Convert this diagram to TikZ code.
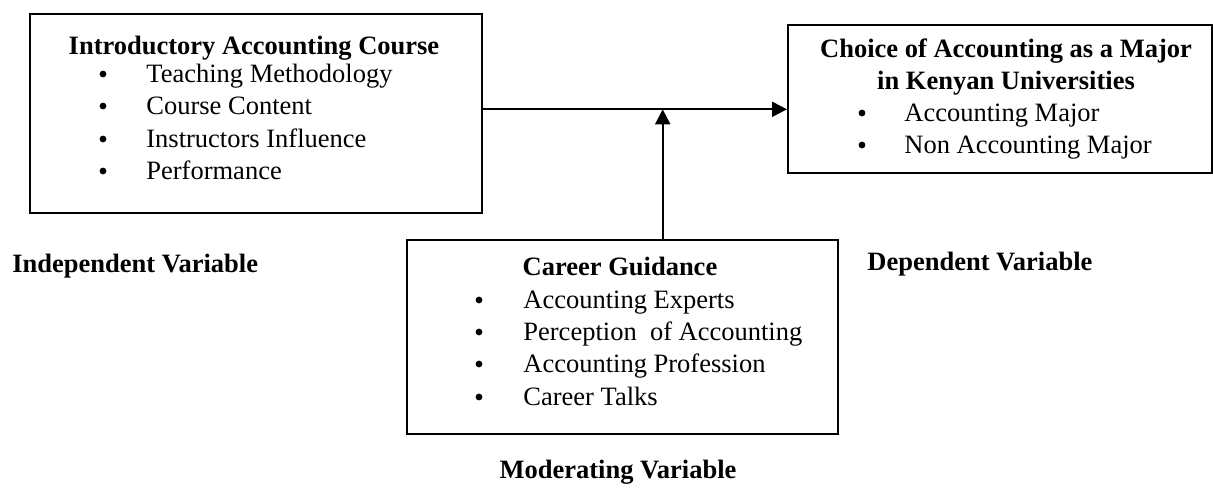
\documentclass[tikz,border=0pt]{standalone}
\usepackage{fontspec}
\setmainfont{Liberation Serif}
\usetikzlibrary{arrows.meta}
\tikzset{
  boxn/.style={draw, line width=1pt, rectangle, anchor=north west, inner sep=0pt},
  ttl/.style={font=\fontsize{13.25}{16}\selectfont\bfseries, anchor=base, inner sep=0pt},
  itm/.style={font=\fontsize{13.25}{16}\selectfont, anchor=base west, inner sep=0pt},
  bul/.style={circle, fill, inner sep=0pt, minimum size=3.4pt},
  lbl/.style={font=\fontsize{13.25}{16}\selectfont\bfseries, anchor=base west, inner sep=0pt},
  conn/.style={line width=1pt, -{Triangle[length=7.5pt,width=7.5pt]}}
}
\begin{document}
\begin{tikzpicture}[x=0.5pt,y=0.5pt]
\useasboundingbox (0,0) rectangle (1213,-489);
% boxes
\node[boxn, minimum width=226pt, minimum height=99.5pt] (b1) at (29,-13) {};
\node[boxn, minimum width=212pt, minimum height=74pt] (b2) at (787,-24) {};
\node[boxn, minimum width=215.5pt, minimum height=97pt] (b3) at (406,-239) {};
% box 1 text
\node[ttl] (t1) at (254,-54) {Introductory Accounting Course};
\node[bul] (p11) at (103,-74) {};
\node[itm] (i11) at (146,-82) {Teaching Methodology};
\node[bul] (p12) at (103,-106) {};
\node[itm] (i12) at (146,-114) {Course Content};
\node[bul] (p13) at (103,-139) {};
\node[itm] (i13) at (146,-147) {Instructors Influence};
\node[bul] (p14) at (103,-171) {};
\node[itm] (i14) at (146,-179) {Performance};
% box 2 text
\node[ttl] (t2a) at (1006,-57) {Choice of Accounting as a Major};
\node[ttl] (t2b) at (1006,-89) {in Kenyan Universities};
\node[bul] (p21) at (862,-113) {};
\node[itm] (i21) at (904,-121) {Accounting Major};
\node[bul] (p22) at (862,-145) {};
\node[itm] (i22) at (904,-153) {Non Accounting Major};
% box 3 text
\node[ttl] (t3) at (620,-275) {Career Guidance};
\node[bul] (p31) at (479,-300) {};
\node[itm] (i31) at (523,-308) {Accounting Experts};
\node[bul] (p32) at (479,-332) {};
\node[itm] (i32) at (523,-340) {Perception\ \ of Accounting};
\node[bul] (p33) at (479,-364) {};
\node[itm] (i33) at (523,-372) {Accounting Profession};
\node[bul] (p34) at (479,-397) {};
\node[itm] (i34) at (523,-405) {Career Talks};
% labels
\node[lbl] (l1) at (12,-272) {Independent Variable};
\node[lbl] (l2) at (867,-270) {Dependent Variable};
\node[ttl] (l3) at (618,-478) {Moderating Variable};
% connectors
\coordinate (j) at (662.7,-109.3);
\draw[conn] (b1.east |- j) -- (b2.west |- j);
\draw[conn] (b3.north -| j) -- (j);
\end{tikzpicture}
\end{document}
